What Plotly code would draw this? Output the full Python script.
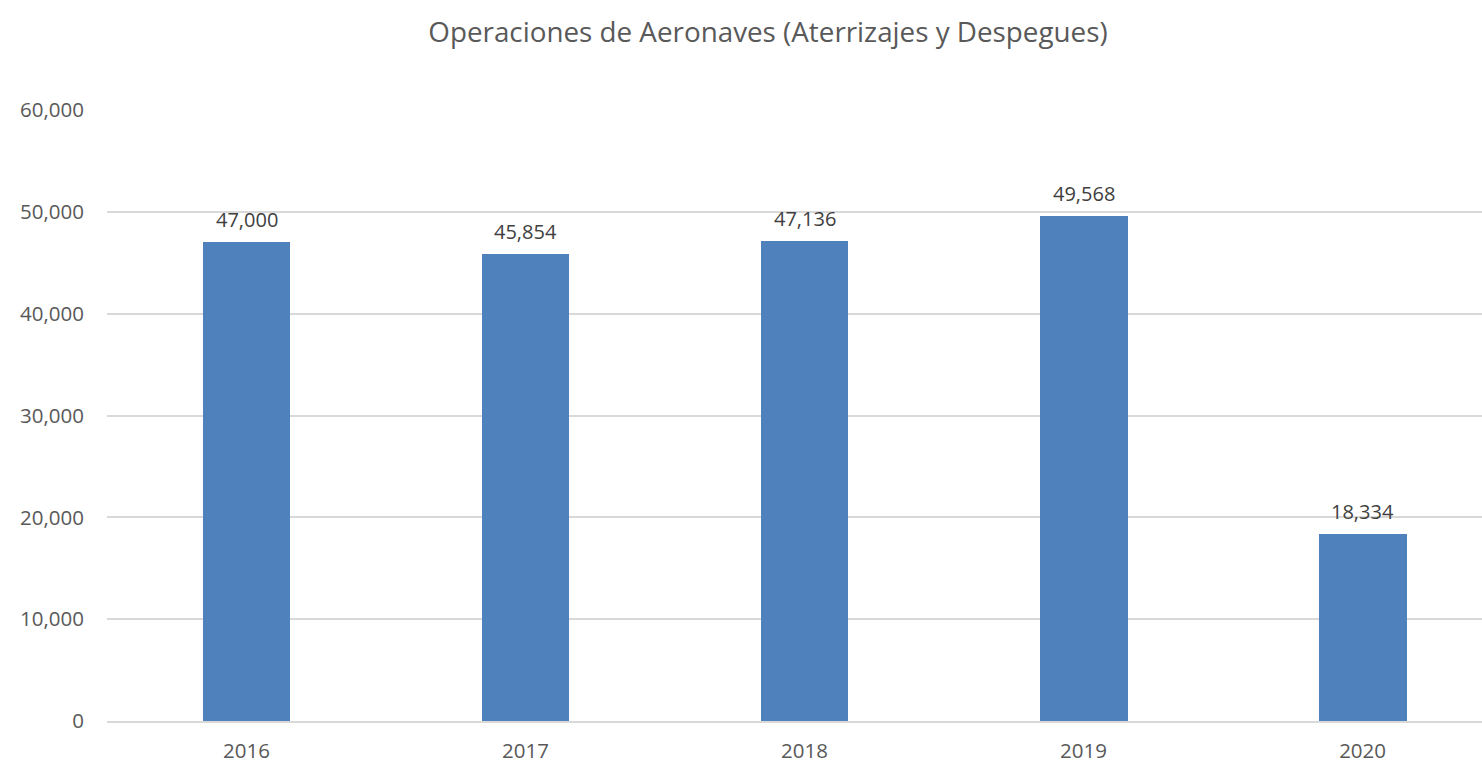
import plotly.graph_objects as go

years = ["2016", "2017", "2018", "2019", "2020"]
operations = [47000, 45854, 47136, 49568, 18334]
y_ticks = [0, 10000, 20000, 30000, 40000, 50000, 60000]
y_tick_labels = ["0", "10,000", "20,000", "30,000", "40,000", "50,000", "60,000"]

FONT = "Open Sans, Liberation Sans, sans-serif"
xs = list(range(len(years)))

fig = go.Figure()
fig.add_trace(go.Bar(
    x=xs,
    y=operations,
    width=0.315,
    marker=dict(color="#4f81bd", line=dict(width=0)),
    hoverinfo="x+y",
))

for x, v in zip(xs, operations):
    fig.add_annotation(
        x=x, y=v, xref="x", yref="y", text=f"{v:,}", showarrow=False,
        yanchor="bottom", yshift=7,
        font=dict(family=FONT, size=20, color="#404040"),
    )

fig.update_layout(
    width=1482, height=763,
    margin=dict(l=107, r=0, t=110, b=42),
    paper_bgcolor="white", plot_bgcolor="white",
    title=dict(text="Operaciones de Aeronaves (Aterrizajes y Despegues)",
               x=768 / 1482, xref="container", xanchor="center", y=1 - 32 / 763, yanchor="middle",
               font=dict(family=FONT, size=27.8, color="#595959")),
    showlegend=False,
    bargap=0,
    font=dict(family=FONT, size=20, color="#595959"),
)
fig.update_xaxes(
    tickmode="array", tickvals=xs, ticktext=years,
    range=[-0.5, 4.428], showgrid=False, zeroline=False,
    showline=True, linecolor="#d9d9d9", linewidth=1.5,
    ticks="", ticklabelstandoff=11,
    tickfont=dict(family=FONT, size=20.5, color="#595959"),
)
fig.update_yaxes(
    tickmode="array", tickvals=y_ticks, ticktext=y_tick_labels,
    range=[0, 60000], showgrid=True, gridcolor="#d9d9d9", gridwidth=1.5,
    zeroline=False, showline=False, ticks="", ticklabelstandoff=22,
    tickfont=dict(family=FONT, size=20.5, color="#595959"),
)

fig.write_html(
    "out.html",
    config={"displayModeBar": False},
    post_script="document.body.style.margin='0';document.body.style.overflow='hidden';",
)
